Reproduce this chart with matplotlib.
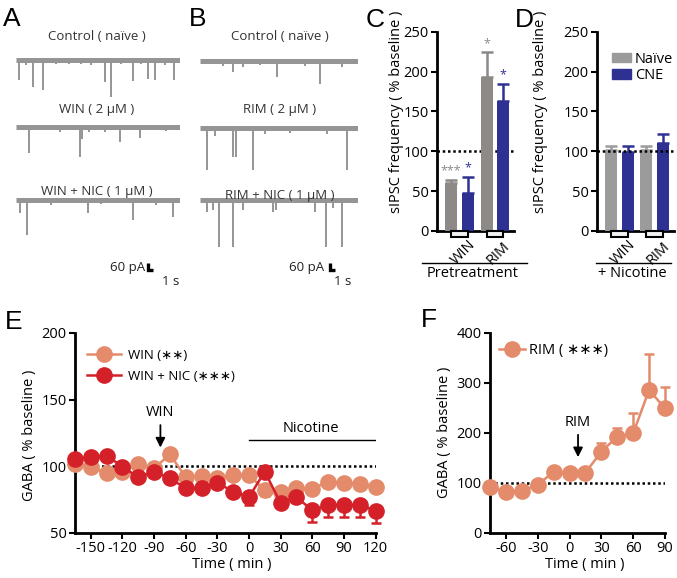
import matplotlib
matplotlib.use('Agg')
import matplotlib.pyplot as plt
from matplotlib.patches import Rectangle, Patch
import numpy as np

plt.rcParams['font.family'] = ['Open Sans', 'DejaVu Sans']
plt.rcParams['axes.unicode_minus'] = False

# ---------------- data ----------------
# Electrophysiology traces: event times (s) and downward amplitudes (pA)
A_titles = ["Control ( naïve )", "WIN ( 2 µM )", "WIN + NIC ( 1 µM )"]
B_titles = ["Control ( naïve )", "RIM ( 2 µM )", "RIM + NIC ( 1 µM )"]
A_ctrl_t = [0.6, 2.0, 3.4, 5.4, 8.0, 10.5, 13.0, 15.0, 17.8, 19.0, 21.0, 23.4, 25.0, 26.4, 27.8, 29.8, 31.6]
A_ctrl_amp = [171, 40, 231, 257, 30, 35, 30, 40, 189, 317, 35, 180, 30, 163, 171, 40, 171]
A_win_t = [2.6, 8.8, 12.8, 13.2, 14.6, 17.8, 20.8, 24.8, 30.0]
A_win_amp = [223, 45, 257, 100, 45, 40, 129, 94, 35]
A_nic_t = [0.8, 2.2, 7.0, 14.4, 17.0, 23.4, 28.0, 31.4]
A_nic_amp = [111, 300, 40, 111, 35, 171, 40, 146]
B_ctrl_t = [4.6, 6.6, 8.6, 12.0, 15.4, 21.0, 24.0, 28.4]
B_ctrl_amp = [43, 94, 51, 35, 137, 43, 197, 51]
B_rim_t = [1.4, 3.0, 6.6, 7.2, 10.6, 13.0, 18.0, 25.4, 29.4]
B_rim_amp = [360, 69, 249, 249, 360, 51, 43, 51, 360]
B_nic_t = [1.4, 2.6, 3.8, 6.6, 8.6, 14.6, 15.2, 23.0, 25.2, 26.6, 28.4]
B_nic_amp = [103, 86, 403, 403, 86, 103, 86, 103, 403, 69, 403]

# Panels C / D: sIPSC frequency (% baseline)
groups = ["WIN", "RIM"]
C_naive = [60, 193]
C_naive_err = [4, 31]
C_cne = [48, 163]
C_cne_err = [20, 22]
C_naive_sig = ["***", "*"]
C_cne_sig = ["*", "*"]
D_naive = [102, 101]
D_naive_err = [5, 6]
D_cne = [99, 110]
D_cne_err = [8, 12]

# Panel E: GABA (% baseline)
E_time = [-165, -150, -135, -120, -105, -90, -75, -60, -45, -30, -15, 0, 15, 30, 45, 60, 75, 90, 105, 120]
E_win = [101.7, 99.5, 94.8, 96, 101.7, 98.5, 109, 91.8, 92.7, 91, 93.5, 93.5, 82, 81, 83.6, 83, 88.5, 87.7, 87, 84.7]
E_win_err = [2, 2, 3, 2, 2, 2, 2, 2, 2, 2, 2, 2, 4, 2, 2, 4, 3, 2, 2, 2]
E_nic = [105.3, 107.2, 108, 99.8, 91.8, 96, 91, 83.5, 83.5, 87.7, 81, 77, 96, 72.5, 77, 67, 71, 71, 71, 66.7]
E_nic_err = [2, 2, 3, 2, 3, 2, 2, 2, 2, 4, 4, 6, 4, 3, 4, 8.5, 9, 9, 9, 9]

# Panel F
F_time = [-75, -60, -45, -30, -15, 0, 15, 30, 45, 60, 75, 90]
F_rim = [91.3, 82.7, 84.7, 96, 122.7, 119.3, 120.7, 162.7, 192.7, 199.3, 286, 249.3]
F_rim_err = [3, 3, 3, 3, 5, 4, 5, 18, 18, 41, 72, 42]

# ---------------- style ----------------
W, H, DPI = 677, 578, 100
TRACE = '#959595'
GRAY_C = '#8c8987'
GRAY_D = '#9b9b9b'
BLUE = '#2f3192'
LIGHT = '#e38b6b'
DARK = '#d42129'
SPW = 2.0
TICKFS = 10.5

fig = plt.figure(figsize=(W / DPI, H / DPI), dpi=DPI)


def fax(x0, y0, x1, y1):
    return fig.add_axes([x0 / W, 1 - y1 / H, (x1 - x0) / W, (y1 - y0) / H])


def ftext(x, y, s, **kw):
    fig.text(x / W, 1 - y / H, s, **kw)


# panel letters
for lab, x, y in [("A", 3, 26), ("B", 189, 26), ("C", 366, 27), ("D", 515, 27),
                  ("E", 5, 329), ("F", 421, 327)]:
    ftext(x, y, lab, fontsize=19, family='Liberation Sans', va='baseline', ha='left')

# ---------------- traces ----------------
PX_PER_S = 5.0
PX_PER_PA = 7.0 / 60.0
YTOP, YBOT = 45, -460


def trace_axes(x0, x1, base):
    ax = fax(x0, base - YTOP * PX_PER_PA, x1, base - YBOT * PX_PER_PA)
    ax.set_xlim(0, (x1 - x0) / PX_PER_S)
    ax.set_ylim(YBOT, YTOP)
    ax.axis('off')
    return ax


def draw_trace(ax, t, amp):
    T = ax.get_xlim()[1]
    ax.plot([0, T], [0, 0], color=TRACE, lw=3.6, solid_capstyle='butt')
    ax.vlines(t, 0, -np.asarray(amp), color=TRACE, lw=1.4)


A_data = [(A_ctrl_t, A_ctrl_amp), (A_win_t, A_win_amp), (A_nic_t, A_nic_amp)]
B_data = [(B_ctrl_t, B_ctrl_amp), (B_rim_t, B_rim_amp), (B_nic_t, B_nic_amp)]
A_bases = [60, 127, 200]
B_bases = [61, 128, 200]
A_title_y = [37, 110, 192]
B_title_y = [37, 110, 195]

axA = []
for (t, a), b, ty, title in zip(A_data, A_bases, A_title_y, A_titles):
    ax = trace_axes(16, 180, b)
    draw_trace(ax, t, a)
    ftext(97, ty, title, fontsize=9.5, ha='center', va='center', color='#333333')
    axA.append(ax)
axB = []
for (t, a), b, ty, title in zip(B_data, B_bases, B_title_y, B_titles):
    ax = trace_axes(200, 358, b)
    draw_trace(ax, t, a)
    ftext(280, ty, title, fontsize=9.5, ha='center', va='center', color='#333333')
    axB.append(ax)


def scale_bar(ax, t0, y0):
    ax.plot([t0, t0, t0 + 1.0], [y0 + 60, y0, y0], color='black', lw=2.4,
            clip_on=False, solid_capstyle='butt', solid_joinstyle='miter')


scale_bar(axA[2], 26.4, -600)
scale_bar(axB[2], 26.0, -600)
ftext(145, 267, "60 pA", fontsize=9.5, ha='right', va='center', color='#222222')
ftext(171, 282, "1 s", fontsize=9.5, ha='center', va='center', color='#222222')
ftext(324, 267, "60 pA", fontsize=9.5, ha='right', va='center', color='#222222')
ftext(343, 282, "1 s", fontsize=9.5, ha='center', va='center', color='#222222')

# ---------------- C / D ----------------
GRP = np.array([22.25, 57.75])
OFF = 8.25
BW = 12


def bar_panel(x0, naive, naive_err, cne, cne_err, gray, dotted_on_top, bottom_label, line_x, ylab_x):
    ax = fax(x0, 31.7, x0 + 77, 231)
    ax.set_xlim(0, 77)
    ax.set_ylim(0, 250)
    z = np.zeros(len(naive))
    ekw = dict(elinewidth=1.8, capthick=1.8)
    ax.bar(GRP - OFF, naive, BW, color=gray, yerr=[z, naive_err], capsize=4.3,
           error_kw=dict(ecolor=gray, **ekw), zorder=3)
    ax.bar(GRP + OFF, cne, BW, color=BLUE, yerr=[z, cne_err], capsize=4.3,
           error_kw=dict(ecolor=BLUE, **ekw), zorder=3)
    ax.plot([0, 77], [100, 100], color='black', lw=1.8, linestyle=(0, (1, 1.1)),
            zorder=5 if dotted_on_top else 1, clip_on=False)
    for s in ['top', 'right']:
        ax.spines[s].set_visible(False)
    for s in ['left', 'bottom']:
        ax.spines[s].set_linewidth(SPW)
    ax.set_yticks([0, 50, 100, 150, 200, 250])
    ax.tick_params(axis='y', labelsize=TICKFS, width=1.5, length=4, pad=2)
    ax.set_xticks([])
    trans = ax.get_xaxis_transform()
    for g, name in zip(GRP, groups):
        ax.add_patch(Rectangle((g - OFF, -0.03), 2 * OFF, 0.03, transform=trans,
                               facecolor='#f2f2f2', edgecolor='black', lw=1.5, clip_on=False, zorder=4))
        ax.text(g + 4.0, -0.11, name, transform=trans, rotation=45, fontsize=TICKFS,
                ha='center', va='center')
    ax.plot(line_x, [-0.16, -0.16], transform=ax.transAxes, color='black', lw=1.0, clip_on=False)
    ax.text(0.465, -0.215, bottom_label, transform=ax.transAxes, fontsize=TICKFS,
            ha='center', va='center')
    ax.set_ylabel("sIPSC frequency ( % baseline )", fontsize=TICKFS)
    ax.yaxis.set_label_coords(ylab_x, 0.6)
    return ax


axC = bar_panel(437, C_naive, C_naive_err, C_cne, C_cne_err, GRAY_C, False, "Pretreatment",
                [-0.195, 1.17], -0.43)
for g, v, e, s in zip(GRP, C_naive, C_naive_err, C_naive_sig):
    axC.text(g - OFF, v + e + 3, s, color=GRAY_C, fontsize=9, ha='center', va='bottom')
for g, v, e, s in zip(GRP, C_cne, C_cne_err, C_cne_sig):
    axC.text(g + OFF, v + e + 3, s, color=BLUE, fontsize=9, ha='center', va='bottom')

axD = bar_panel(597, D_naive, D_naive_err, D_cne, D_cne_err, GRAY_D, True, "+ Nicotine",
                [-0.01, 0.96], -0.64)
axD.legend(handles=[Patch(color=GRAY_D, label='Naïve'), Patch(color=BLUE, label='CNE')],
           loc='upper left', bbox_to_anchor=(0.19, 0.9), frameon=False, fontsize=10.5,
           handlelength=1.3, handleheight=0.6, handletextpad=0.3, labelspacing=0.1,
           borderaxespad=0, borderpad=0)

# ---------------- E ----------------
def style_line_axes(ax):
    for s in ['top', 'right']:
        ax.spines[s].set_visible(False)
    for s in ['left', 'bottom']:
        ax.spines[s].set_linewidth(SPW)
    ax.tick_params(labelsize=TICKFS, width=1.5, length=4, pad=2)


axE = fax(75, 333, 375.5, 533)
axE.set_xlim(-165, 120)
axE.set_ylim(50, 200)
style_line_axes(axE)
axE.set_xticks(np.arange(-150, 121, 30))
axE.set_yticks([50, 100, 150, 200])
axE.plot([-150, 120], [100, 100], color='black', lw=1.8, linestyle=(0, (1, 1.1)), zorder=1)
zE = np.zeros(len(E_time))
axE.errorbar(E_time, E_win, yerr=[E_win_err, zE], fmt='none', ecolor=LIGHT, elinewidth=1.8,
             capsize=3.5, capthick=1.8, zorder=2, clip_on=False)
axE.plot(E_time, E_win, '-o', color=LIGHT, ms=11, lw=1.8, zorder=3, clip_on=False, label='WIN (∗∗)')
axE.errorbar(E_time, E_nic, yerr=[E_nic_err, zE], fmt='none', ecolor=DARK, elinewidth=1.8,
             capsize=3.5, capthick=1.8, zorder=4, clip_on=False)
axE.plot(E_time, E_nic, '-o', color=DARK, ms=11, lw=1.8, zorder=5, clip_on=False, label='WIN + NIC (∗∗∗)')
axE.legend(loc='upper left', bbox_to_anchor=(0.04, 0.92), frameon=False, fontsize=9.5,
           handlelength=2.6, handletextpad=0.5, labelspacing=0.6, borderaxespad=0, borderpad=0)
axE.annotate("", xy=(-84, 112), xytext=(-84, 133),
             arrowprops=dict(arrowstyle='-|>', color='black', lw=1.3, mutation_scale=14))
axE.text(-84, 140, "WIN", fontsize=10.5, ha='center', va='center')
axE.plot([0, 120], [119.75, 119.75], color='black', lw=1.0)
axE.text(59, 128.5, "Nicotine", fontsize=10.5, ha='center', va='center')
axE.set_ylabel("GABA ( % baseline )", fontsize=TICKFS)
axE.yaxis.set_label_coords(-0.127, 0.49)
axE.set_xlabel("Time ( min )", fontsize=TICKFS)
axE.xaxis.set_label_coords(0.52, -0.12)

# ---------------- F ----------------
axF = fax(490, 333, 665, 533)
axF.set_xlim(-75, 90)
axF.set_ylim(0, 400)
style_line_axes(axF)
axF.set_xticks(np.arange(-60, 91, 30))
axF.set_yticks([0, 100, 200, 300, 400])
axF.plot([-70, 90], [100, 100], color='black', lw=1.8, linestyle=(0, (1, 1.1)), zorder=1)
zF = np.zeros(len(F_time))
axF.errorbar(F_time, F_rim, yerr=[zF, F_rim_err], fmt='none', ecolor=LIGHT, elinewidth=1.8,
             capsize=3.5, capthick=1.8, zorder=2, clip_on=False)
axF.plot(F_time, F_rim, '-o', color=LIGHT, ms=11, lw=1.8, zorder=3, clip_on=False, label='RIM ( ∗∗∗)')
axF.legend(loc='upper left', bbox_to_anchor=(0.05, 0.95), frameon=False, fontsize=10.5,
           handlelength=1.8, handletextpad=0.3, borderaxespad=0, borderpad=0)
axF.annotate("", xy=(8, 146), xytext=(8, 202),
             arrowprops=dict(arrowstyle='-|>', color='black', lw=1.3, mutation_scale=14))
axF.text(8, 221, "RIM", fontsize=10.5, ha='center', va='center')
axF.set_ylabel("GABA ( % baseline )", fontsize=TICKFS)
axF.yaxis.set_label_coords(-0.217, 0.505)
axF.set_xlabel("Time ( min )", fontsize=TICKFS)
axF.xaxis.set_label_coords(0.54, -0.12)

fig.savefig('out.png', dpi=DPI)
